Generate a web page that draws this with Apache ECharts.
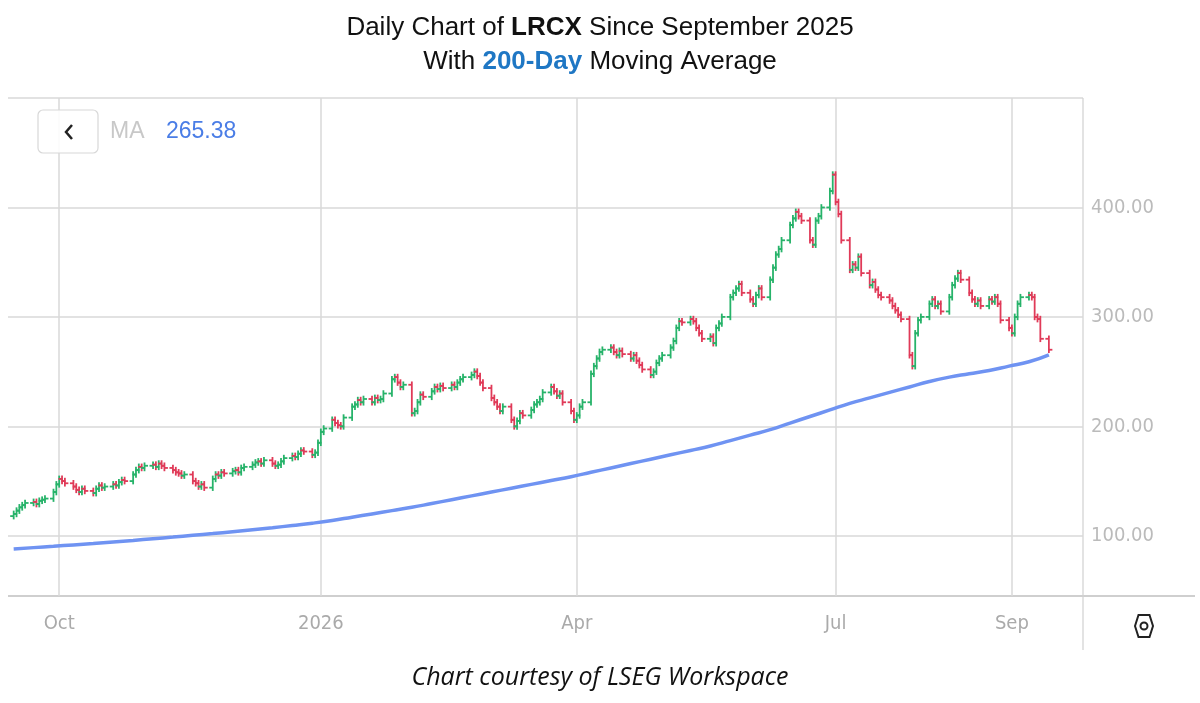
<!DOCTYPE html>
<html><head><meta charset="utf-8">
<script src="https://cdn.jsdelivr.net/npm/echarts@6/dist/echarts.min.js"></script>
<style>html,body{margin:0;padding:0;background:#fff}#c{width:1200px;height:703px}</style>
</head><body><div id="c"></div>
<script>
// Daily closes (weekdays from 2025-09-15)
const closes = [
120,123,126,128,130, 131,129,132,133,134, 140,147,152,150,148, 145,142,140,143,141,
139,143,146,144,145, 147,146,149,151,150, 156,160,163,162,164, 165,163,166,164,162,
160,158,157,155,156, 150,148,145,147,144, 152,156,155,158,157, 159,160,158,162,163,
165,167,168,166,169, 166,164,165,168,171, 173,172,175,178,177, 174,176,185,195,198,
206,203,201,200,208, 218,220,224,222,225, 222,226,224,225,230, 243,245,240,236,238,
212,214,222,229,227, 232,236,234,237,235, 238,236,240,243,245, 247,250,246,240,235,
226,222,218,214,218, 206,200,205,212,210, 215,220,222,225,231, 236,232,228,230,222,
214,206,210,218,222, 248,255,262,268,270, 272,268,265,269,266, 262,265,260,256,252,
247,250,258,262,265, 272,278,290,296,295, 298,296,290,285,280, 282,276,290,294,300,
318,322,326,330,322, 316,312,320,326,318, 334,345,357,362,370, 384,390,396,392,388,
370,366,388,392,400, 415,430,405,394,370, 343,348,345,355,340, 329,332,325,320,318,
315,310,306,302,298, 265,255,285,297,300, 312,316,310,312,305, 318,329,335,340,334,
322,316,312,315,310, 316,314,318,312,297, 290,285,300,312,318, 320,318,300,298,280,
270
];
const startPrice = 118;
// 200-day moving average, weekly readings from 2025-09-15
const ma = [88,89.2,90.4,91.7,93,94.4,95.8,97.3,98.8,100.4,102,103.7,105.5,107.4,109.4,111.5,114,
117,120,123,126,129.5,133,136.5,140,143.5,147,150.5,154,158,
162,166,170,174,178,182,187,192,197,203,209,215,221,
226,231,236,241,245,248,251,255,259,265.38];
const yTicks = [100,200,300,400];
const xTickDates = ['2025-10-01','2026-01-01','2026-04-01','2026-07-01','2026-09-01'];
const xTickLabels = ['Oct','2026','Apr','Jul','Sep'];

const DAY = 86400000;
function weekdays(n){const out=[];let t=Date.UTC(2025,8,15);while(out.length<n){const d=new Date(t).getUTCDay();if(d!==0&&d!==6)out.push(t);t+=DAY;}return out;}
const dates = weekdays(closes.length);
const ohlc = closes.map((c,i)=>{const o=i?closes[i-1]:startPrice;return [dates[i],o,c,Math.max(o,c)+3,Math.min(o,c)-3];});
const maData = ma.map((v,i)=>[Date.UTC(2025,8,15)+i*7*DAY,v]);
const xTicks = xTickDates.map(s=>Date.parse(s+'T00:00:00Z'));

const chart = echarts.init(document.getElementById('c'));
chart.setOption({
  animation:false,
  title:{left:'center',top:6,text:'Daily Chart of {b|LRCX} Since September 2025\nWith {bl|200-Day} Moving Average',
    textStyle:{fontFamily:'Arial, Liberation Sans',fontSize:26,fontWeight:'normal',color:'#111',lineHeight:34,
      rich:{b:{fontSize:26,fontWeight:'bold',color:'#111',fontFamily:'Arial, Liberation Sans'},bl:{fontSize:26,fontWeight:'bold',color:'#1f77c4',fontFamily:'Arial, Liberation Sans'}}}},
  grid:{left:8,right:117,top:98,bottom:107},
  xAxis:{type:'value',min:Date.UTC(2025,8,13),max:Date.UTC(2026,8,26),
    axisLine:{show:false},axisTick:{show:false,customValues:xTicks},
    axisLabel:{customValues:xTicks,formatter:v=>{const i=xTicks.indexOf(v);return i>=0?xTickLabels[i]:'';},color:'#aaa',fontSize:20,margin:18,fontFamily:'DejaVu Sans Condensed, Liberation Sans Narrow'},
    splitLine:{show:true,lineStyle:{color:'#d9d9d9',width:1.5}}},
  yAxis:{type:'value',position:'right',min:45,max:500,
    axisLine:{show:false},axisTick:{show:false,customValues:yTicks},
    axisLabel:{customValues:yTicks,formatter:v=>v.toFixed(2),color:'#bbb',fontSize:20,margin:8,fontFamily:'DejaVu Sans Condensed, Liberation Sans Narrow'},
    splitLine:{show:true,lineStyle:{color:'#d9d9d9',width:1.5}}},
  graphic:[
    {type:'line',shape:{x1:8,y1:98,x2:1083,y2:98},style:{stroke:'#d9d9d9',lineWidth:1.5}},
    {type:'line',shape:{x1:8,y1:596,x2:1195,y2:596},style:{stroke:'#cfcfcf',lineWidth:2}},
    {type:'line',shape:{x1:1083,y1:98,x2:1083,y2:650},style:{stroke:'#d0d0d0',lineWidth:1.2}},
    {type:'rect',shape:{x:38,y:110,width:60,height:43,r:5},style:{fill:'rgba(255,255,255,0.9)',stroke:'#d8d8d8',lineWidth:1.2},z:100},
    {type:'polyline',shape:{points:[[72,125],[66,132],[72,139]]},style:{stroke:'#222',lineWidth:2.5,fill:null},z:101},
    {type:'text',x:110,y:120,style:{text:'MA',fill:'#c8c8c8',font:'23px Arial, Liberation Sans'},z:101},
    {type:'text',x:166,y:120,style:{text:'265.38',fill:'#4a7de6',font:'23px Arial, Liberation Sans'},z:101},
    {type:'polygon',shape:{points:[[1135,626],[1138.5,615],[1149.5,615],[1153,626],[1149.5,637],[1138.5,637]]},style:{stroke:'#222',lineWidth:2,fill:null}},
    {type:'circle',shape:{cx:1144,cy:626,r:3.5},style:{stroke:'#222',lineWidth:2,fill:null}},
    {type:'text',x:600,y:678,style:{text:'Chart courtesy of LSEG Workspace',fill:'#111',font:'italic 25px "Open Sans", Liberation Sans',align:'center',verticalAlign:'middle'}}
  ],
  series:[
    {type:'custom',data:ohlc,encode:{x:0,y:[1,2,3,4]},
     renderItem:(p,api)=>{
       const t=api.value(0),o=api.value(1),c=api.value(2),h=api.value(3),l=api.value(4);
       const x=api.coord([t,o])[0],yo=api.coord([t,o])[1],yc=api.coord([t,c])[1],yh=api.coord([t,h])[1],yl=api.coord([t,l])[1];
       const col=c>=o?'#27b36a':'#e03a58';
       const s={stroke:col,lineWidth:1.8};
       return {type:'group',children:[
         {type:'line',shape:{x1:x,y1:yh,x2:x,y2:yl},style:s},
         {type:'line',shape:{x1:x-3.5,y1:yo,x2:x,y2:yo},style:s},
         {type:'line',shape:{x1:x,y1:yc,x2:x+3.5,y2:yc},style:s}]};
     }},
    {type:'line',data:maData,smooth:true,showSymbol:false,lineStyle:{color:'#6f93f2',width:3.5},z:5}
  ]
});
</script></body></html>
